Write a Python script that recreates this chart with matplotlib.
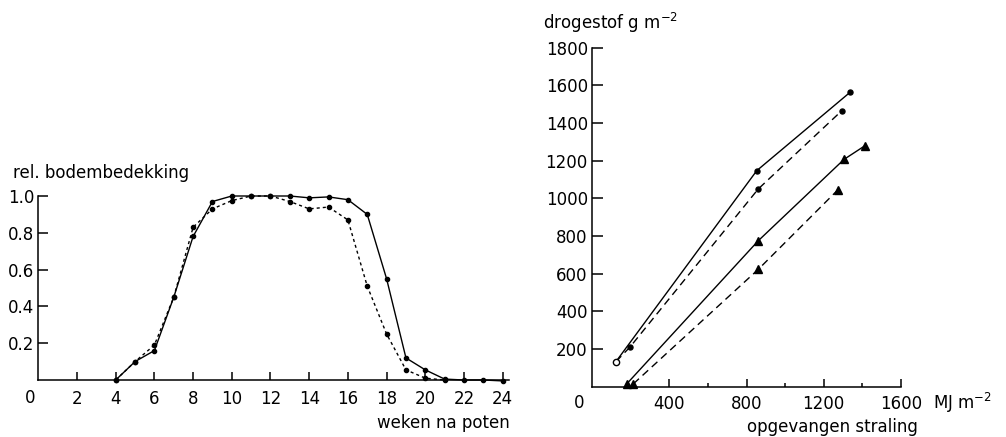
import numpy as np
import matplotlib
matplotlib.use('Agg')
import matplotlib.pyplot as plt

# left panel: relative ground cover vs weeks after planting
weeks_a = [4, 5, 6, 7, 8, 9, 10, 11, 12, 13, 14, 15, 16, 17, 18, 19, 20, 21, 22, 23, 24]
cover_a = [0.0, 0.10, 0.16, 0.45, 0.78, 0.97, 1.0, 1.0, 1.0, 1.0, 0.99, 0.995, 0.98,
           0.90, 0.55, 0.12, 0.055, 0.005, 0.0, 0.0, -0.005]
weeks_b = [4, 5, 6, 7, 8, 9, 10, 11, 12, 13, 14, 15, 16, 17, 18, 19, 20, 21]
cover_b = [0.0, 0.10, 0.19, 0.45, 0.83, 0.93, 0.975, 1.0, 1.0, 0.97, 0.93, 0.94, 0.87,
           0.51, 0.25, 0.055, 0.01, 0.0]
week_ticks = [2, 4, 6, 8, 10, 12, 14, 16, 18, 20, 22, 24]
cover_ticks = [0.2, 0.4, 0.6, 0.8, 1.0]

# right panel: dry matter vs intercepted radiation
rad_c1 = [124, 853, 1336]
dm_c1 = [133, 1147, 1563]
rad_c2 = [124, 197, 861, 1293]
dm_c2 = [133, 211, 1050, 1465]
rad_t1 = [180, 861, 1305, 1414]
dm_t1 = [15, 775, 1207, 1280]
rad_t2 = [214, 861, 1272]
dm_t2 = [15, 623, 1044]
rad_ticks = [400, 800, 1200, 1600]
rad_minor = [600, 1000, 1400]
dm_ticks = [200, 400, 600, 800, 1000, 1200, 1400, 1600, 1800]

W, H = 1006, 437
fig = plt.figure(figsize=(W / 100, H / 100), dpi=100)
fs = 12


def box(x0, x1, ytop, ybot):
    return [x0 / W, 1 - ybot / H, (x1 - x0) / W, (ybot - ytop) / H]


# ---- left
ax1 = fig.add_axes(box(38.3, 508.5, 196, 380))
ax1.plot(weeks_a, cover_a, color='black', lw=1.0, marker='o', ms=3, clip_on=False)
ax1.plot(weeks_b, cover_b, color='black', lw=1.0, ls=(0, (2.2, 2.2)), marker='o', ms=3,
         clip_on=False)
ax1.set_xlim(0, 24.3)
ax1.set_ylim(0, 1.0)
ax1.set_xticks(week_ticks)
ax1.set_xticklabels([str(w) for w in week_ticks])
ax1.set_yticks(cover_ticks)
ax1.set_yticklabels(['0.2', '0.4', '0.6', '0.8', '1.0'])
ax1.tick_params(axis='x', direction='in', length=6, width=1.1, pad=7.5, labelsize=fs)
ax1.tick_params(axis='y', direction='in', length=7, width=1.1, pad=3, labelsize=fs)
for s in ['top', 'right']:
    ax1.spines[s].set_visible(False)
for s in ['left', 'bottom']:
    ax1.spines[s].set_linewidth(1.1)
fig.text(30 / W, 1 - 398 / H, '0', ha='center', va='center', fontsize=fs)
fig.text(13 / W, 1 - 173 / H, 'rel. bodembedekking', ha='left', va='center', fontsize=fs)
fig.text(510 / W, 1 - 423 / H, 'weken na poten', ha='right', va='center', fontsize=fs)

# ---- right
ax2 = fig.add_axes(box(592, 901, 47.7, 386.7))
ax2.plot(rad_c1, dm_c1, color='black', lw=1.0, clip_on=False)
ax2.plot(rad_c2, dm_c2, color='black', lw=1.0, ls=(0, (5.5, 3.5)), clip_on=False)
ax2.plot(rad_c1[1:], dm_c1[1:], ls='none', marker='o', ms=3.6, color='black', clip_on=False)
ax2.plot(rad_c2[1:], dm_c2[1:], ls='none', marker='o', ms=3.6, color='black', clip_on=False)
ax2.plot(rad_c1[:1], dm_c1[:1], ls='none', marker='o', ms=4.5, mfc='white', mec='black',
         mew=1.0, clip_on=False)
ax2.plot(rad_t1, dm_t1, color='black', lw=1.0, marker='^', ms=5.5, clip_on=False)
ax2.plot(rad_t2, dm_t2, color='black', lw=1.0, ls=(0, (5.5, 3.5)), marker='^', ms=5.5,
         clip_on=False)
ax2.set_xlim(0, 1600)
ax2.set_ylim(0, 1800)
ax2.set_xticks(rad_ticks)
ax2.set_xticklabels([str(r) for r in rad_ticks])
ax2.set_xticks(rad_minor, minor=True)
ax2.set_yticks(dm_ticks)
ax2.set_yticklabels([str(d) for d in dm_ticks])
ax2.tick_params(axis='x', which='major', direction='in', length=6, width=1.1, pad=6,
                labelsize=fs)
ax2.tick_params(axis='x', which='minor', direction='in', length=3, width=1.1)
ax2.tick_params(axis='y', direction='in', length=8, width=1.1, pad=3, labelsize=fs)
for s in ['top', 'right']:
    ax2.spines[s].set_visible(False)
for s in ['left', 'bottom']:
    ax2.spines[s].set_linewidth(1.1)
fig.text(579 / W, 1 - 403 / H, '0', ha='center', va='center', fontsize=fs)
fig.text(543 / W, 1 - 23 / H, r'drogestof g m$^{-2}$', ha='left', va='center', fontsize=fs)
fig.text(933 / W, 1 - 403 / H, r'MJ m$^{-2}$', ha='left', va='center', fontsize=fs)
fig.text(832 / W, 1 - 427 / H, 'opgevangen straling', ha='center', va='center', fontsize=fs)

fig.savefig('out.png', dpi=100)
